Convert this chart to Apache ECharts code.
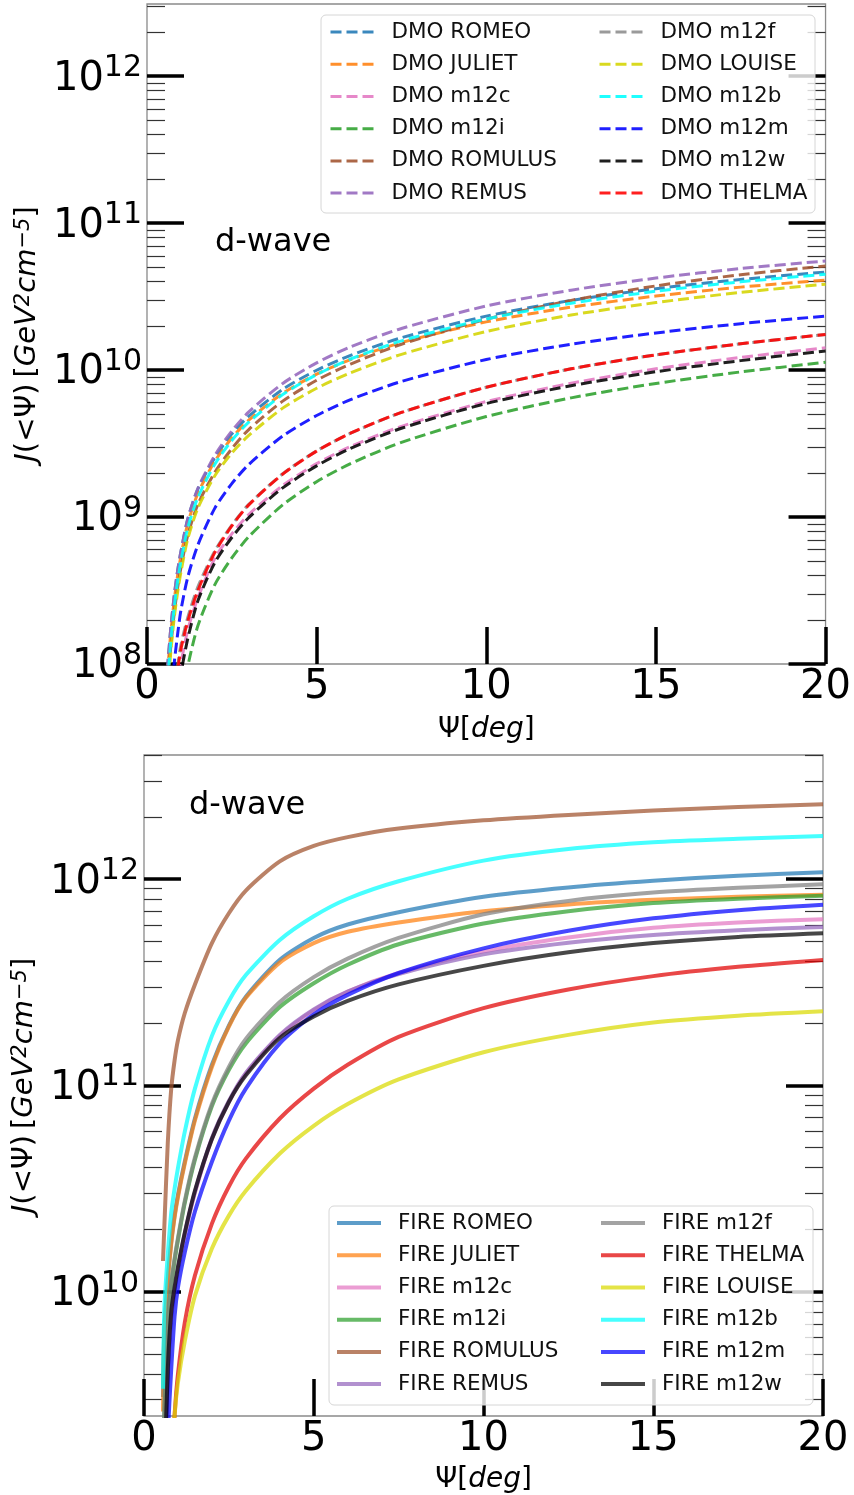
<!DOCTYPE html>
<html>
<head>
<meta charset="utf-8">
<script src="https://cdn.jsdelivr.net/npm/echarts@6/dist/echarts.min.js"></script>
<style>
  html, body { margin: 0; padding: 0; background: #fff; }
  #chart { width: 854px; height: 1495px; }
</style>
</head>
<body>
<div id="chart"></div>
<script>
// Opening angle grids (deg)
const psiDMO  = [0.6, 0.7, 0.8, 0.9, 1.0, 1.2, 1.5, 2, 2.5, 3, 4, 5, 6, 7.5, 10, 12.5, 15, 17.5, 20];
const psiFIRE = [0.56, 0.6, 0.7, 0.8, 0.9, 1.0, 1.2, 1.5, 2, 2.5, 3, 4, 5, 6, 7.5, 10, 12.5, 15, 17.5, 20];

// Dark-matter-only J(<psi), GeV^2 cm^-5
const dmoROMEO   = [9.12e7, 1.74e8, 2.88e8, 4.27e8, 5.82e8, 9.66e8, 1.55e9, 2.54e9, 3.68e9, 4.86e9, 7.40e9, 9.98e9, 1.26e10, 1.66e10, 2.33e10, 2.98e10, 3.58e10, 4.14e10, 4.65e10];
const dmoJULIET  = [8.51e7, 1.62e8, 2.69e8, 3.98e8, 5.43e8, 9.02e8, 1.45e9, 2.40e9, 3.45e9, 4.57e9, 6.95e9, 9.38e9, 1.18e10, 1.54e10, 2.13e10, 2.68e10, 3.19e10, 3.67e10, 4.10e10];
const dmoM12c    = [8.91e6, 2.00e7, 3.80e7, 6.61e7, 1.00e8, 1.70e8, 2.82e8, 5.25e8, 7.69e8, 1.04e9, 1.64e9, 2.31e9, 3.02e9, 4.14e9, 6.11e9, 8.13e9, 1.02e10, 1.22e10, 1.42e10];
const dmoM12i    = [3.16e6, 7.08e6, 1.41e7, 2.75e7, 4.79e7, 9.55e7, 1.82e8, 3.47e8, 5.27e8, 7.35e8, 1.21e9, 1.74e9, 2.31e9, 3.22e9, 4.83e9, 6.47e9, 8.11e9, 9.72e9, 1.13e10];
const dmoROMULUS = [6.76e7, 1.30e8, 2.19e8, 3.27e8, 4.52e8, 7.50e8, 1.22e9, 2.02e9, 2.92e9, 3.94e9, 6.15e9, 8.53e9, 1.10e10, 1.50e10, 2.22e10, 2.98e10, 3.74e10, 4.46e10, 5.11e10];
const dmoREMUS   = [9.12e7, 1.74e8, 2.88e8, 4.27e8, 5.82e8, 9.66e8, 1.57e9, 2.63e9, 3.85e9, 5.19e9, 8.11e9, 1.12e10, 1.44e10, 1.92e10, 2.73e10, 3.50e10, 4.23e10, 4.91e10, 5.53e10];
const dmoM12f    = [1.12e7, 2.82e7, 5.75e7, 9.55e7, 1.35e8, 2.07e8, 3.35e8, 5.89e8, 8.81e8, 1.22e9, 1.97e9, 2.82e9, 3.72e9, 5.15e9, 7.64e9, 1.02e10, 1.27e10, 1.51e10, 1.75e10];
const dmoLOUISE  = [6.17e7, 1.20e8, 2.04e8, 3.05e8, 4.22e8, 7.08e8, 1.15e9, 1.91e9, 2.73e9, 3.59e9, 5.51e9, 7.52e9, 9.59e9, 1.28e10, 1.83e10, 2.37e10, 2.88e10, 3.38e10, 3.84e10];
const dmoM12b    = [7.24e7, 1.41e8, 2.40e8, 3.63e8, 5.01e8, 8.41e8, 1.36e9, 2.29e9, 3.32e9, 4.42e9, 6.82e9, 9.31e9, 1.19e10, 1.58e10, 2.23e10, 2.85e10, 3.44e10, 3.99e10, 4.49e10];
const dmoM12m    = [2.63e7, 5.50e7, 1.00e8, 1.58e8, 2.32e8, 3.89e8, 6.46e8, 1.15e9, 1.69e9, 2.28e9, 3.56e9, 4.91e9, 6.30e9, 8.37e9, 1.18e10, 1.50e10, 1.79e10, 2.07e10, 2.33e10];
const dmoM12w    = [6.31e6, 1.41e7, 2.82e7, 5.25e7, 8.51e7, 1.48e8, 2.69e8, 4.90e8, 7.26e8, 9.91e8, 1.58e9, 2.23e9, 2.93e9, 4.02e9, 5.92e9, 7.83e9, 9.75e9, 1.16e10, 1.35e10];
const dmoTHELMA  = [1.00e7, 2.51e7, 5.25e7, 8.91e7, 1.26e8, 1.95e8, 3.16e8, 5.75e8, 8.71e8, 1.21e9, 1.96e9, 2.81e9, 3.72e9, 5.15e9, 7.64e9, 1.02e10, 1.27e10, 1.51e10, 1.75e10];

// Hydrodynamic (FIRE) J(<psi), GeV^2 cm^-5
const fireROMEO   = [3.09e9, 6.61e9, 1.15e10, 1.74e10, 2.34e10, 2.95e10, 4.27e10, 6.92e10, 1.26e11, 1.95e11, 2.69e11, 4.07e11, 5.19e11, 6.03e11, 6.92e11, 8.22e11, 9.12e11, 9.82e11, 1.04e12, 1.08e12];
const fireJULIET  = [2.63e9, 6.31e9, 1.12e10, 1.70e10, 2.29e10, 2.88e10, 4.17e10, 6.76e10, 1.23e11, 1.93e11, 2.66e11, 3.94e11, 4.90e11, 5.56e11, 6.17e11, 7.00e11, 7.55e11, 7.94e11, 8.22e11, 8.41e11];
const fireM12c    = [6.31e8, 1.26e9, 3.98e9, 7.50e9, 1.01e10, 1.27e10, 1.89e10, 3.02e10, 5.50e10, 8.32e10, 1.14e11, 1.74e11, 2.32e11, 2.85e11, 3.51e11, 4.47e11, 5.22e11, 5.81e11, 6.17e11, 6.40e11];
const fireM12i    = [1.26e9, 2.51e9, 6.92e9, 1.07e10, 1.41e10, 1.78e10, 2.69e10, 4.37e10, 7.94e10, 1.19e11, 1.60e11, 2.40e11, 3.13e11, 3.85e11, 4.84e11, 6.10e11, 7.00e11, 7.67e11, 8.05e11, 8.32e11];
const fireROMULUS = [1.41e10, 2.09e10, 5.25e10, 9.55e10, 1.32e11, 1.66e11, 2.24e11, 3.09e11, 4.90e11, 6.84e11, 8.81e11, 1.22e12, 1.45e12, 1.60e12, 1.76e12, 1.93e12, 2.05e12, 2.15e12, 2.24e12, 2.31e12];
const fireREMUS   = [6.31e8, 1.26e9, 3.98e9, 7.59e9, 1.02e10, 1.29e10, 1.91e10, 3.05e10, 5.56e10, 8.41e10, 1.15e11, 1.76e11, 2.34e11, 2.85e11, 3.47e11, 4.32e11, 4.92e11, 5.37e11, 5.66e11, 5.87e11];
const fireM12f    = [1.41e9, 2.82e9, 7.24e9, 1.10e10, 1.45e10, 1.82e10, 2.75e10, 4.47e10, 8.13e10, 1.23e11, 1.68e11, 2.54e11, 3.35e11, 4.12e11, 5.19e11, 6.76e11, 7.85e11, 8.61e11, 9.08e11, 9.44e11];
const fireTHELMA  = [1.58e8, 2.51e8, 5.62e8, 1.26e9, 2.51e9, 3.98e9, 7.08e9, 1.20e10, 2.14e10, 3.24e10, 4.42e10, 6.92e10, 9.66e10, 1.26e11, 1.72e11, 2.37e11, 2.92e11, 3.39e11, 3.76e11, 4.06e11];
const fireLOUISE  = [1.58e8, 2.51e8, 5.62e8, 1.26e9, 2.51e9, 3.63e9, 5.75e9, 9.55e9, 1.62e10, 2.34e10, 3.09e10, 4.68e10, 6.38e10, 8.13e10, 1.07e11, 1.45e11, 1.76e11, 2.02e11, 2.18e11, 2.29e11];
const fireM12b    = [3.39e9, 8.32e9, 1.51e10, 2.40e10, 3.16e10, 3.98e10, 5.96e10, 9.66e10, 1.74e11, 2.57e11, 3.43e11, 5.07e11, 6.61e11, 8.04e11, 9.77e11, 1.23e12, 1.40e12, 1.51e12, 1.57e12, 1.62e12];
const fireM12m    = [3.16e8, 6.31e8, 2.00e9, 4.17e9, 7.59e9, 1.05e10, 1.55e10, 2.45e10, 4.27e10, 6.76e10, 9.66e10, 1.60e11, 2.21e11, 2.75e11, 3.51e11, 4.62e11, 5.62e11, 6.46e11, 7.08e11, 7.52e11];
const fireM12w    = [6.31e8, 1.26e9, 4.17e9, 7.94e9, 1.05e10, 1.32e10, 1.93e10, 3.09e10, 5.50e10, 8.32e10, 1.12e11, 1.70e11, 2.16e11, 2.57e11, 3.09e11, 3.80e11, 4.42e11, 4.90e11, 5.25e11, 5.47e11];

// Axis ticks
const psiTicks = [0, 5, 10, 15, 20];
const majorTop = [1e8, 1e9, 1e10, 1e11, 1e12];
const majorBottom = [1e10, 1e11, 1e12];
const minorMantissas = [2, 3, 4, 5, 6, 7, 8, 9];
const minorDecadesTop = [1e8, 1e9, 1e10, 1e11, 1e12];
const minorDecadesBottom = [1e9, 1e10, 1e11, 1e12];

const FONT = 'DejaVu Sans';

// Legend order, column by column
const dmoSet = [
  ['DMO ROMEO', dmoROMEO, '#1f77b4'],
  ['DMO JULIET', dmoJULIET, '#ff7f0e'],
  ['DMO m12c', dmoM12c, '#e377c2'],
  ['DMO m12i', dmoM12i, '#2ca02c'],
  ['DMO ROMULUS', dmoROMULUS, '#a0522d'],
  ['DMO REMUS', dmoREMUS, '#9467bd'],
  ['DMO m12f', dmoM12f, '#8c8c8c'],
  ['DMO LOUISE', dmoLOUISE, '#d4d400'],
  ['DMO m12b', dmoM12b, '#00ffff'],
  ['DMO m12m', dmoM12m, '#0000ff'],
  ['DMO m12w', dmoM12w, '#000000'],
  ['DMO THELMA', dmoTHELMA, '#ff0000']
];
const fireSet = [
  ['FIRE ROMEO', fireROMEO, '#1f77b4'],
  ['FIRE JULIET', fireJULIET, '#ff7f0e'],
  ['FIRE m12c', fireM12c, '#e377c2'],
  ['FIRE m12i', fireM12i, '#2ca02c'],
  ['FIRE ROMULUS', fireROMULUS, '#a0522d'],
  ['FIRE REMUS', fireREMUS, '#9467bd'],
  ['FIRE m12f', fireM12f, '#7f7f7f'],
  ['FIRE THELMA', fireTHELMA, '#e00000'],
  ['FIRE LOUISE', fireLOUISE, '#dada00'],
  ['FIRE m12b', fireM12b, '#00ffff'],
  ['FIRE m12m', fireM12m, '#0000ff'],
  ['FIRE m12w', fireM12w, '#000000']
];

const minorTop = minorDecadesTop.flatMap(d => minorMantissas.map(m => m * d));
const minorBottom = minorDecadesBottom.flatMap(d => minorMantissas.map(m => m * d));

const supLabel = v => '{b|10}{s|' + Math.round(Math.log10(v)) + '}';
const labelRich = {
  b: { fontFamily: FONT, fontSize: 40, color: '#000', verticalAlign: 'bottom', lineHeight: 46 },
  s: { fontFamily: FONT, fontSize: 30, color: '#000', verticalAlign: 'top', lineHeight: 30 }
};

function yAxesFor(gridIndex, min, max, major, minor) {
  const base = { type: 'log', logBase: 10, gridIndex, min, max, splitLine: { show: false }, axisLine: { show: false } };
  return [
    Object.assign({}, base, {
      position: 'left',
      name: '{i|J}{n|(<Ψ)\u2009[}{i|GeV}{p|2}{i|cm}{p|−5}{n|]}',
      nameLocation: 'middle', nameRotate: 90, nameGap: 102,
      nameTextStyle: { rich: {
        i: { fontFamily: FONT, fontStyle: 'italic', fontSize: 29, color: '#000' },
        n: { fontFamily: FONT, fontSize: 29, color: '#000' },
        p: { fontFamily: FONT, fontStyle: 'italic', fontSize: 21, color: '#000', verticalAlign: 'top' }
      } },
      axisTick: { show: true, inside: true, length: 37, customValues: major, lineStyle: { color: '#000', width: 3.5 } },
      axisLabel: { show: true, margin: 5, customValues: major, formatter: supLabel, rich: labelRich }
    }),
    Object.assign({}, base, {
      position: 'left',
      axisTick: { show: true, inside: true, length: 18, customValues: minor, lineStyle: { color: '#333', width: 1.2 } },
      axisLabel: { show: false }
    }),
    Object.assign({}, base, {
      position: 'right',
      axisTick: { show: true, inside: true, length: 37, customValues: major, lineStyle: { color: '#000', width: 3.5 } },
      axisLabel: { show: false }
    }),
    Object.assign({}, base, {
      position: 'right',
      axisTick: { show: true, inside: true, length: 18, customValues: minor, lineStyle: { color: '#333', width: 1.2 } },
      axisLabel: { show: false }
    })
  ];
}

function xAxisFor(gridIndex, nameGap) {
  return {
    type: 'value', gridIndex, min: 0, max: 20, interval: 5,
    splitLine: { show: false }, axisLine: { show: false },
    axisTick: { show: true, inside: true, length: 37, customValues: psiTicks, lineStyle: { color: '#000', width: 3.5 } },
    axisLabel: { margin: 4, fontFamily: FONT, fontSize: 40, color: '#000', customValues: psiTicks },
    name: '{n|Ψ[}{i|deg}{n|]}', nameLocation: 'middle', nameGap,
    nameTextStyle: { rich: {
      i: { fontFamily: FONT, fontStyle: 'italic', fontSize: 28, color: '#000' },
      n: { fontFamily: FONT, fontSize: 28, color: '#000' }
    } }
  };
}

const series = [];
dmoSet.forEach(([name, vals, color]) => {
  series.push({
    name, type: 'line', xAxisIndex: 0, yAxisIndex: 0, symbol: 'none',
    smooth: 0.25, animation: false,
    data: psiDMO.map((p, i) => [p, vals[i]]),
    // m12f runs under THELMA; shift its dash phase so it shows in the gaps
    lineStyle: { color, width: 3, type: [11, 5], dashOffset: name === 'DMO m12f' ? 8 : 0, opacity: 0.88 },
    itemStyle: { color }
  });
});
fireSet.forEach(([name, vals, color]) => {
  series.push({
    name, type: 'line', xAxisIndex: 1, yAxisIndex: 4, symbol: 'none',
    smooth: 0.25, animation: false,
    data: psiFIRE.map((p, i) => [p, vals[i]]),
    lineStyle: { color, width: 4, opacity: 0.72 },
    itemStyle: { color }
  });
});

function legendCol(names, left, top, width) {
  return {
    data: names, orient: 'vertical', left, top, padding: 0,
    itemWidth: 44, itemHeight: 14, itemGap: 10, selectedMode: false, z: 30,
    lineStyle: { width, dashOffset: 0 },
    itemStyle: { opacity: 0 },
    textStyle: { fontFamily: FONT, fontSize: 21.5, color: '#111', lineHeight: 22.2, padding: [0, 0, 0, 12] }
  };
}

const chart = echarts.init(document.getElementById('chart'), null, { renderer: 'canvas' });
chart.setOption({
  animation: false,
  backgroundColor: '#fff',
  grid: [
    { left: 147, top: 4, width: 679, height: 660, show: true, borderColor: '#8a8a8a', borderWidth: 1.3, backgroundColor: 'transparent' },
    { left: 144, top: 755, width: 679, height: 661, show: true, borderColor: '#8a8a8a', borderWidth: 1.3, backgroundColor: 'transparent' }
  ],
  xAxis: [xAxisFor(0, 52), xAxisFor(1, 50)],
  yAxis: [].concat(yAxesFor(0, 1e8, 3.1e12, majorTop, minorTop), yAxesFor(1, 2.5e9, 4e12, majorBottom, minorBottom)),
  legend: [
    legendCol(dmoSet.slice(0, 6).map(d => d[0]), 329, 21, 3),
    legendCol(dmoSet.slice(6).map(d => d[0]), 598, 21, 3),
    legendCol(fireSet.slice(0, 6).map(d => d[0]), 335, 1212, 4),
    legendCol(fireSet.slice(6).map(d => d[0]), 599, 1212, 4)
  ],
  graphic: [
    { type: 'rect', z: 20, shape: { x: 321, y: 15, width: 494, height: 198, r: 5 },
      style: { fill: 'rgba(255,255,255,0.8)', stroke: '#d6d6d6', lineWidth: 1 } },
    { type: 'rect', z: 20, shape: { x: 329, y: 1206, width: 484, height: 199, r: 5 },
      style: { fill: 'rgba(255,255,255,0.8)', stroke: '#d6d6d6', lineWidth: 1 } },
    { type: 'text', z: 20, left: 215, top: 227, style: { text: 'd-wave', font: '32px "DejaVu Sans"', fill: '#000' } },
    { type: 'text', z: 20, left: 189, top: 790, style: { text: 'd-wave', font: '32px "DejaVu Sans"', fill: '#000' } }
  ],
  series
});
</script>
</body>
</html>
